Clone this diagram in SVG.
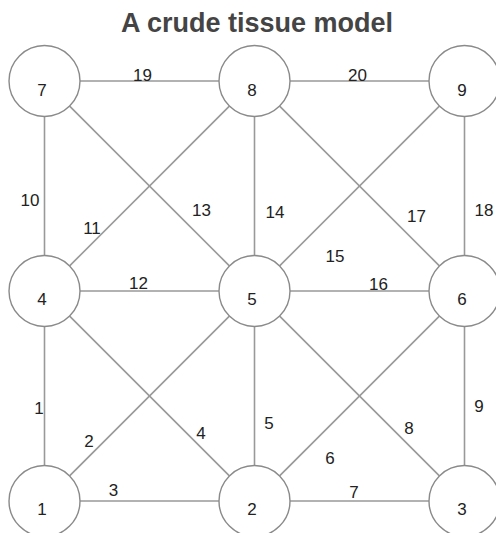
<svg xmlns="http://www.w3.org/2000/svg" width="496" height="533" viewBox="0 0 496 533">
<style>
.n circle{fill:#fff;stroke:#8a8a8a;stroke-width:1.4}
.n text{font-family:"Liberation Sans",Arial,sans-serif;font-size:17px;fill:#222;text-anchor:middle}
#edges line{stroke:#999;stroke-width:1.6}
.lbl{font-family:"Liberation Sans",Arial,sans-serif;font-size:17px;fill:#222;text-anchor:middle}
.title{font-family:"Liberation Sans",Arial,sans-serif;font-size:27px;font-weight:bold;fill:#444;text-anchor:middle}
</style>
<rect width="496" height="533" fill="#fff"/>
<text class="title" x="257" y="32">A crude tissue model</text>
<g id="edges">
<line x1="44.5" y1="465.5" x2="44.5" y2="326.5"/>
<line x1="69.6" y1="475.9" x2="229.4" y2="316.1"/>
<line x1="80" y1="501" x2="219" y2="501"/>
<line x1="69.6" y1="316.1" x2="229.4" y2="475.9"/>
<line x1="254.5" y1="465.5" x2="254.5" y2="326.5"/>
<line x1="279.6" y1="475.9" x2="439.4" y2="316.1"/>
<line x1="290" y1="501" x2="429" y2="501"/>
<line x1="279.6" y1="316.1" x2="439.4" y2="475.9"/>
<line x1="464.5" y1="465.5" x2="464.5" y2="326.5"/>
<line x1="44.5" y1="255.5" x2="44.5" y2="116.5"/>
<line x1="69.6" y1="265.9" x2="229.4" y2="106.1"/>
<line x1="80" y1="291" x2="219" y2="291"/>
<line x1="69.6" y1="106.1" x2="229.4" y2="265.9"/>
<line x1="254.5" y1="255.5" x2="254.5" y2="116.5"/>
<line x1="279.6" y1="265.9" x2="439.4" y2="106.1"/>
<line x1="290" y1="291" x2="429" y2="291"/>
<line x1="279.6" y1="106.1" x2="439.4" y2="265.9"/>
<line x1="464.5" y1="255.5" x2="464.5" y2="116.5"/>
<line x1="80" y1="81" x2="219" y2="81"/>
<line x1="290" y1="81" x2="429" y2="81"/>
</g>
<g id="edge-labels">
<text class="lbl" x="39" y="414">1</text>
<text class="lbl" x="89" y="447">2</text>
<text class="lbl" x="113.5" y="496">3</text>
<text class="lbl" x="201" y="439">4</text>
<text class="lbl" x="269" y="429">5</text>
<text class="lbl" x="330" y="464">6</text>
<text class="lbl" x="354" y="498">7</text>
<text class="lbl" x="409" y="434">8</text>
<text class="lbl" x="479" y="412">9</text>
<text class="lbl" x="30" y="206">10</text>
<text class="lbl" x="92" y="234">11</text>
<text class="lbl" x="138.5" y="289">12</text>
<text class="lbl" x="201.5" y="216">13</text>
<text class="lbl" x="275" y="218">14</text>
<text class="lbl" x="335" y="262">15</text>
<text class="lbl" x="378.5" y="290">16</text>
<text class="lbl" x="416.5" y="222">17</text>
<text class="lbl" x="484" y="216">18</text>
<text class="lbl" x="142.5" y="81">19</text>
<text class="lbl" x="357.5" y="81">20</text>
</g>
<g id="node1" class="n"><circle cx="44.5" cy="501" r="35.5"/><text x="42" y="515">1</text></g>
<g id="node2" class="n"><circle cx="254.5" cy="501" r="35.5"/><text x="252" y="515">2</text></g>
<g id="node3" class="n"><circle cx="464.5" cy="501" r="35.5"/><text x="462" y="515">3</text></g>
<g id="node4" class="n"><circle cx="44.5" cy="291" r="35.5"/><text x="42" y="305">4</text></g>
<g id="node5" class="n"><circle cx="254.5" cy="291" r="35.5"/><text x="252" y="305">5</text></g>
<g id="node6" class="n"><circle cx="464.5" cy="291" r="35.5"/><text x="462" y="305">6</text></g>
<g id="node7" class="n"><circle cx="44.5" cy="81" r="35.5"/><text x="42" y="96">7</text></g>
<g id="node8" class="n"><circle cx="254.5" cy="81" r="35.5"/><text x="252" y="96">8</text></g>
<g id="node9" class="n"><circle cx="464.5" cy="81" r="35.5"/><text x="462" y="96">9</text></g>
</svg>
